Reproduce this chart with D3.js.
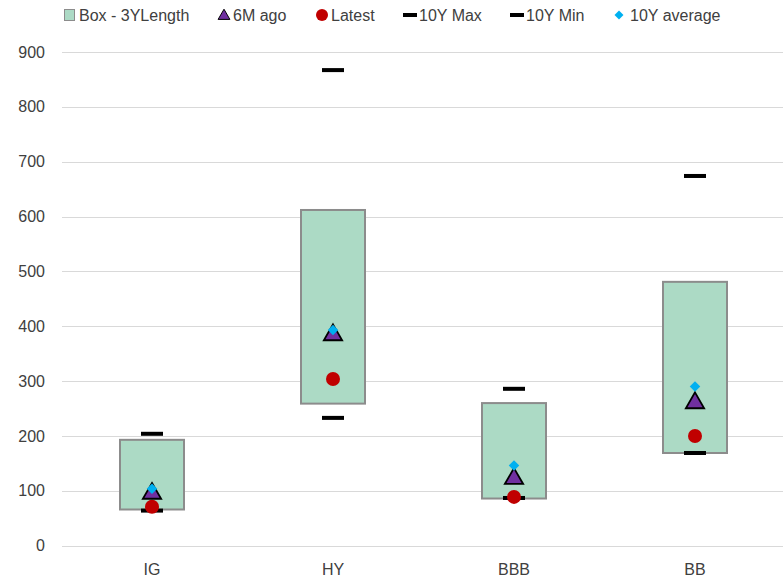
<!DOCTYPE html>
<html>
<head>
<meta charset="utf-8">
<script src="https://cdn.jsdelivr.net/npm/d3@7/dist/d3.min.js"></script>
<style>
  html, body { margin: 0; padding: 0; background: #fff; }
  svg { display: block; font-family: "Liberation Sans", Arial, sans-serif; }
</style>
</head>
<body>
<svg id="chart" width="783" height="580"></svg>
<script>
// Credit spread ranges by rating bucket (bp)
const categories = ["IG", "HY", "BBB", "BB"];
const boxLow    = [66, 259, 86, 169];
const boxHigh   = [193, 612, 260, 481];
const max10Y    = [204, 867, 286, 674];
const min10Y    = [64, 233, 87, 169];
const ago6M     = [97, 386, 124, 262];
const latest    = [71, 304, 89, 200];
const avg10Y    = [104, 393, 146, 290];
const yTicks    = [0, 100, 200, 300, 400, 500, 600, 700, 800, 900];

const colors = {
  box: "#acdac5", boxStroke: "#8c8c8c",
  tri: "#7030a0", dot: "#c00000", diamond: "#00b0f0", dash: "#000000",
  grid: "#d9d9d9", text: "#404040"
};

const svg = d3.select("#chart");
const x = d3.scaleBand().domain(categories).range([61.5, 785.5]);
const y = d3.scaleLinear().domain([0, 900]).range([545.7, 52]);

// gridlines
svg.append("g").selectAll("line").data(yTicks).join("line")
  .attr("x1", 62).attr("x2", 783)
  .attr("y1", d => Math.round(y(d)) + 0.5).attr("y2", d => Math.round(y(d)) + 0.5)
  .attr("stroke", colors.grid).attr("stroke-width", 1);

// y axis labels
const yAxis = svg.append("g").attr("transform", "translate(45,0)")
  .call(d3.axisLeft(y).tickValues(yTicks).tickSize(0).tickPadding(0));
yAxis.select(".domain").remove();
yAxis.selectAll("text").attr("fill", colors.text)
  .style("font-size", "16px").style("font-family", "Liberation Sans, Arial, sans-serif");

// x axis labels
const xAxis = svg.append("g").attr("transform", "translate(0,564)")
  .call(d3.axisBottom(x).tickSize(0).tickPadding(0));
xAxis.select(".domain").remove();
xAxis.selectAll("text").attr("fill", colors.text)
  .style("font-size", "16px").style("font-family", "Liberation Sans, Arial, sans-serif");

const cx = d => x(d) + x.bandwidth() / 2;
const boxW = 64;
const idx = categories.map((c, i) => i);

// 3Y range boxes
svg.append("g").selectAll("rect").data(idx).join("rect")
  .attr("x", i => cx(categories[i]) - boxW / 2)
  .attr("y", i => y(boxHigh[i]))
  .attr("width", boxW)
  .attr("height", i => y(boxLow[i]) - y(boxHigh[i]))
  .attr("fill", colors.box).attr("stroke", colors.boxStroke).attr("stroke-width", 2);

// 10Y max / min dashes
const dashW = 22, dashH = 4;
function dashes(vals) {
  svg.append("g").selectAll("rect").data(idx).join("rect")
    .attr("x", i => cx(categories[i]) - dashW / 2)
    .attr("y", i => y(vals[i]) - dashH / 2)
    .attr("width", dashW).attr("height", dashH)
    .attr("fill", colors.dash);
}
dashes(max10Y);
dashes(min10Y);

// latest
svg.append("g").selectAll("circle").data(idx).join("circle")
  .attr("cx", i => cx(categories[i])).attr("cy", i => y(latest[i]))
  .attr("r", 7).attr("fill", colors.dot);

// 6M ago
const tri = d3.symbol().type(d3.symbolTriangle).size(145);
svg.append("g").selectAll("path").data(idx).join("path")
  .attr("d", tri)
  .attr("transform", i => `translate(${cx(categories[i])},${y(ago6M[i]) + 1})`)
  .attr("fill", colors.tri).attr("stroke", "#000").attr("stroke-width", 1.8)
  .attr("stroke-linejoin", "miter");

// 10Y average
const dia = d3.symbol().type(d3.symbolSquare).size(55);
svg.append("g").selectAll("path").data(idx).join("path")
  .attr("d", dia)
  .attr("transform", i => `translate(${cx(categories[i])},${y(avg10Y[i])}) rotate(45)`)
  .attr("fill", colors.diamond);

// legend
const legend = [
  { label: "Box - 3YLength", kind: "box", x: 64 },
  { label: "6M ago", kind: "tri", x: 219 },
  { label: "Latest", kind: "dot", x: 316 },
  { label: "10Y Max", kind: "dash", x: 403 },
  { label: "10Y Min", kind: "dash", x: 510 },
  { label: "10Y average", kind: "dia", x: 614 }
];
const lg = svg.append("g").attr("transform", "translate(0,15)");
legend.forEach(d => {
  const g = lg.append("g").attr("transform", `translate(${d.x},0)`);
  let tx = 0;
  if (d.kind === "box") {
    g.append("rect").attr("x", 0.5).attr("y", -5.5).attr("width", 10).attr("height", 11)
      .attr("fill", colors.box).attr("stroke", colors.boxStroke).attr("stroke-width", 1);
    tx = 15;
  } else if (d.kind === "tri") {
    g.append("path").attr("d", d3.symbol().type(d3.symbolTriangle).size(60))
      .attr("transform", "translate(5,1)").attr("fill", colors.tri).attr("stroke", "#000").attr("stroke-width", 1);
    tx = 14;
  } else if (d.kind === "dot") {
    g.append("circle").attr("cx", 6).attr("cy", 0).attr("r", 6).attr("fill", colors.dot);
    tx = 15;
  } else if (d.kind === "dash") {
    g.append("rect").attr("x", 0).attr("y", -2).attr("width", 14).attr("height", 4).attr("fill", colors.dash);
    tx = 16;
  } else if (d.kind === "dia") {
    g.append("path").attr("d", d3.symbol().type(d3.symbolSquare).size(40))
      .attr("transform", "translate(5,0) rotate(45)").attr("fill", colors.diamond);
    tx = 16;
  }
  g.append("text").attr("x", tx).attr("y", 0).attr("dy", "0.35em")
    .attr("fill", colors.text).style("font-size", "16px").text(d.label);
});
</script>
</body>
</html>
